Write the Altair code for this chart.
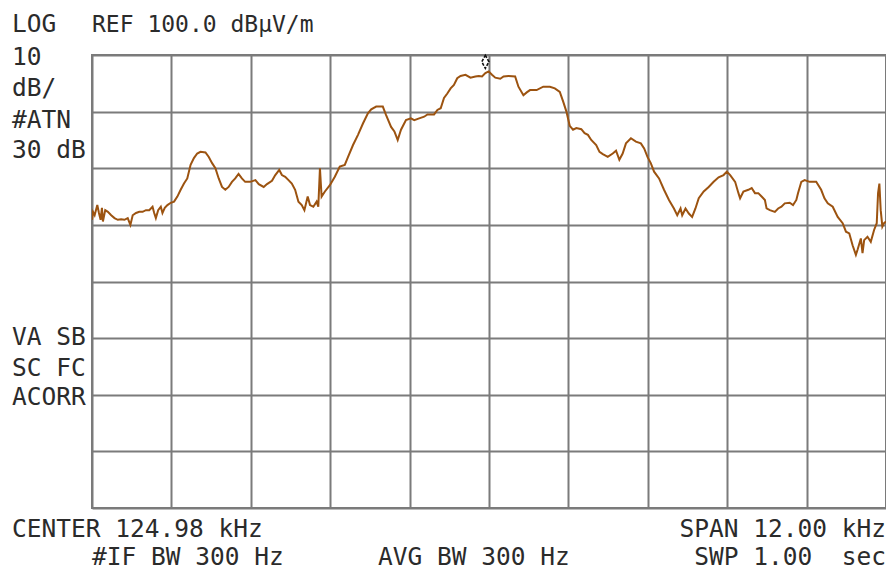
import altair as alt
import pandas as pd

# Frequency (kHz) and level (dBuV/m)
freq_khz = [118.98, 118.995, 119.02, 119.06, 119.085, 119.11, 119.13, 119.145, 119.18, 119.22,
            119.27, 119.32, 119.37, 119.42, 119.47, 119.52, 119.56, 119.595, 119.645, 119.695,
            119.745, 119.795, 119.845, 119.895, 119.92, 119.945, 119.98, 120.02, 120.045, 120.08,
            120.12, 120.17, 120.22, 120.27, 120.32, 120.37, 120.42, 120.47, 120.52, 120.57,
            120.62, 120.695, 120.745, 120.795, 120.845, 120.895, 120.945, 120.995, 121.045, 121.095,
            121.145, 121.195, 121.245, 121.295, 121.37, 121.45, 121.5, 121.575, 121.625, 121.70,
            121.75, 121.81, 121.85, 121.90, 121.95, 122.0, 122.05, 122.10, 122.15, 122.19,
            122.24, 122.275, 122.325, 122.375, 122.40, 122.425, 122.45, 122.50, 122.575, 122.65,
            122.725, 122.80, 122.85, 122.925, 123.0, 123.075, 123.15, 123.20, 123.275, 123.375,
            123.425, 123.50, 123.55, 123.60, 123.65, 123.725, 123.80, 123.85, 123.925, 124.0,
            124.05, 124.15, 124.20, 124.25, 124.30, 124.35, 124.40, 124.45, 124.50, 124.55,
            124.625, 124.70, 124.775, 124.825, 124.875, 124.925, 124.975, 125.025, 125.075, 125.15,
            125.20, 125.275, 125.375, 125.425, 125.50, 125.55, 125.60, 125.70, 125.80, 125.90,
            125.975, 126.05, 126.10, 126.15, 126.20, 126.25, 126.30, 126.375, 126.425, 126.475,
            126.525, 126.60, 126.65, 126.70, 126.775, 126.85, 126.90, 126.95, 127.0, 127.05,
            127.125, 127.20, 127.275, 127.325, 127.375, 127.425, 127.475, 127.55, 127.625, 127.70,
            127.775, 127.825, 127.875, 127.90, 127.95, 128.0, 128.05, 128.10, 128.15, 128.225,
            128.30, 128.375, 128.45, 128.525, 128.575, 128.625, 128.70, 128.75, 128.775, 128.825,
            128.90, 128.95, 129.0, 129.05, 129.10, 129.15, 129.175, 129.225, 129.30, 129.35,
            129.40, 129.45, 129.525, 129.575, 129.625, 129.65, 129.70, 129.75, 129.825, 129.925,
            130.0, 130.05, 130.10, 130.175, 130.25, 130.325, 130.375, 130.425, 130.475, 130.525,
            130.55, 130.60, 130.625, 130.65, 130.70, 130.75, 130.80, 130.84, 130.86, 130.88,
            130.90, 130.925, 130.95, 130.98]

level_db = [70.9, 72.3, 71.7, 73.5, 72.1, 70.9, 73.0, 70.6, 72.6, 72.3,
            71.7, 71.2, 70.9, 71.0, 70.9, 71.2, 70.0, 71.7, 72.1, 72.3,
            72.3, 72.6, 72.6, 73.2, 72.1, 71.2, 72.6, 73.2, 72.1, 73.0,
            73.5, 73.9, 74.1, 75.0, 76.2, 77.3, 78.2, 80.6, 81.8, 82.6,
            82.9, 82.8, 82.0, 80.9, 80.0, 78.2, 76.7, 76.2, 76.7, 77.6,
            78.2, 79.0, 78.2, 77.6, 77.6, 77.9, 77.2, 76.7, 77.2, 77.8,
            78.8, 79.7, 78.8, 78.5, 77.9, 77.3, 76.2, 74.1, 73.5, 72.6,
            75.0, 73.5, 73.2, 74.1, 73.2, 80.0, 75.0, 75.9, 77.0, 78.5,
            80.3, 80.6, 82.0, 84.1, 85.9, 87.9, 89.7, 90.4, 90.9, 90.9,
            89.4, 87.3, 86.5, 85.0, 86.8, 88.5, 88.8, 88.5, 88.8, 89.1,
            89.5, 89.5, 90.3, 90.6, 92.4, 93.2, 94.1, 94.7, 95.9, 96.3,
            96.5, 96.0, 96.2, 96.3, 96.2, 96.8, 97.1, 96.5, 96.0, 95.8,
            96.2, 96.3, 96.2, 94.4, 92.9, 93.4, 93.8, 93.8, 94.4, 94.4,
            94.1, 93.5, 91.8, 90.0, 87.5, 86.8, 87.1, 86.9, 86.2, 85.9,
            85.0, 84.1, 82.9, 82.5, 82.0, 82.6, 83.1, 81.5, 82.6, 84.4,
            85.3, 84.7, 84.4, 83.5, 82.0, 80.9, 79.4, 78.2, 76.2, 74.4,
            72.9, 71.7, 72.9, 71.7, 72.9, 72.0, 71.4, 72.9, 74.7, 75.9,
            76.7, 77.6, 78.4, 78.8, 79.4, 78.8, 77.6, 75.6, 74.7, 75.9,
            76.2, 76.5, 75.6, 75.6, 75.0, 74.4, 72.9, 72.6, 72.3, 72.9,
            73.2, 73.8, 73.9, 73.5, 74.4, 75.6, 77.6, 77.9, 77.6, 77.6,
            76.2, 74.7, 73.8, 73.2, 71.4, 70.3, 68.8, 68.5, 66.4, 64.7,
            65.6, 67.6, 65.0, 67.3, 67.9, 67.0, 69.1, 70.3, 75.6, 77.3,
            72.6, 69.7, 70.3, 70.6]

center_khz = 124.98
span_khz = 12.0
ref_db = 100.0
db_per_div = 10
n_xdiv = 10
n_ydiv = 8

marker_freq = [124.925]
marker_level = [98.8]

f_lo = center_khz - span_khz / 2
f_hi = center_khz + span_khz / 2
y_lo = ref_db - db_per_div * n_ydiv

x_grid = [f_lo + i * span_khz / n_xdiv for i in range(n_xdiv + 1)]
y_grid = [y_lo + i * db_per_div for i in range(n_ydiv + 1)]

W, H = 794, 453
GRID = "#7b7b7b"
TRACE = "#9c5310"
TXT = "#2b2b2b"
FONT = "DejaVu Sans Mono"
NB = "\u00a0"

df = pd.DataFrame({"f": freq_khz, "db": level_db})
mk = pd.DataFrame({"f": marker_freq, "db": marker_level})

xs = alt.Scale(domain=[f_lo, f_hi], nice=False, zero=False)
ys = alt.Scale(domain=[y_lo, ref_db], nice=False, zero=False)

xaxis = alt.Axis(values=x_grid, labels=False, ticks=False, domain=False, title=None,
                 grid=True, gridColor=GRID, gridWidth=2, gridOpacity=1)
yaxis = alt.Axis(values=y_grid, labels=False, ticks=False, domain=False, title=None,
                 grid=True, gridColor=GRID, gridWidth=2, gridOpacity=1)

trace = alt.Chart(df).mark_line(color=TRACE, strokeWidth=2, clip=True).encode(
    x=alt.X("f:Q", scale=xs, axis=xaxis),
    y=alt.Y("db:Q", scale=ys, axis=yaxis),
)

marker = alt.Chart(mk).mark_point(
    shape="M0,-1L0.55,0L0,1L-0.55,0Z", filled=False, color="#111111", size=169,
    strokeWidth=1.6, strokeDash=[3, 1.5], opacity=1
).encode(x=alt.X("f:Q", scale=xs), y=alt.Y("db:Q", scale=ys))

# Annotation texts (label, x offset, baseline y, align, size) relative to plot area
labels = [
    ("LOG", -80, -23, "left", 24.5),
    ("REF 100.0 dBµV/m", 0, -23, "left", 23),
    ("10", -80, 10, "left", 24.5),
    ("dB/", -80, 41, "left", 24.5),
    ("#ATN", -80, 73, "left", 24.5),
    ("30 dB", -80, 103, "left", 24.5),
    ("VA SB", -80, 290, "left", 24.5),
    ("SC FC", -80, 321, "left", 24.5),
    ("ACORR", -80, 350, "left", 24.5),
    ("CENTER 124.98 kHz", -80, 482, "left", 24.5),
    ("#IF BW 300 Hz", 0, 510, "left", 24.5),
    ("AVG BW 300 Hz", 286, 510, "left", 24.5),
    ("SPAN 12.00 kHz", 794, 482, "right", 24.5),
    ("SWP 1.00" + NB + NB + "sec", 794, 510, "right", 24.5),
]

layers = [trace, marker]
for txt, dx, by, al, fs in labels:
    layers.append(
        alt.Chart(pd.DataFrame({"t": [txt]})).mark_text(
            font=FONT, fontSize=fs, color=TXT, align=al, baseline="alphabetic"
        ).encode(text="t:N", x=alt.value(dx), y=alt.value(by))
    )

chart = alt.layer(*layers).properties(
    width=W, height=H,
    autosize=alt.AutoSizeParams(type="none"),
    padding={"left": 84, "top": 47, "right": 0, "bottom": 63},
    background="white",
).configure_view(stroke=GRID, strokeWidth=2)

chart.save("out.html", embed_options={"renderer": "svg", "actions": False})
